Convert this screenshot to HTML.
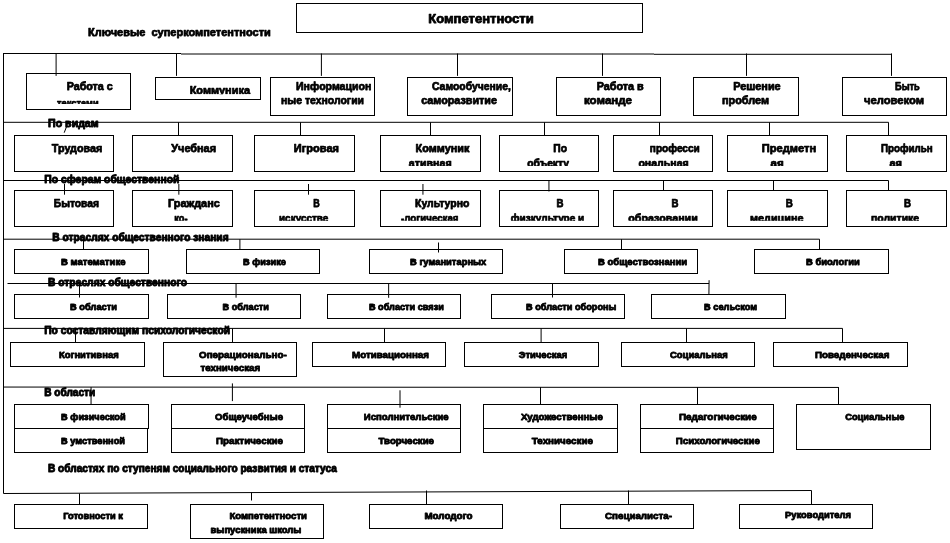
<!DOCTYPE html>
<html lang="ru"><head><meta charset="utf-8"><title>Компетентности</title>
<style>
html,body{margin:0;padding:0;background:#fff;}
body{width:950px;height:543px;overflow:hidden;font-family:"Liberation Sans",sans-serif;}
svg{display:block;filter:grayscale(1);}
svg text{font-family:"Liberation Sans",sans-serif;font-weight:bold;fill:#000;stroke:#000;stroke-linejoin:round;}
</style></head><body>
<svg width="950" height="543" viewBox="0 0 950 543">
<defs>
<clipPath id="c3"><rect x="54.1" y="92.5" width="47.5" height="11.5"/></clipPath>
<clipPath id="c4"><rect x="186.7" y="79.8" width="66.3" height="14.4"/></clipPath>
<clipPath id="c19"><rect x="405.8" y="152.9" width="48.9" height="13.0"/></clipPath>
<clipPath id="c21"><rect x="524.2" y="152.9" width="47.8" height="13.0"/></clipPath>
<clipPath id="c23"><rect x="635.4" y="152.9" width="56.3" height="13.0"/></clipPath>
<clipPath id="c25"><rect x="767.6" y="152.9" width="19.2" height="13.0"/></clipPath>
<clipPath id="c27"><rect x="886.4" y="152.9" width="18.6" height="13.0"/></clipPath>
<clipPath id="c30"><rect x="171.3" y="207.7" width="19.2" height="13.1"/></clipPath>
<clipPath id="c32"><rect x="276" y="207.7" width="55.4" height="13.1"/></clipPath>
<clipPath id="c34"><rect x="398" y="207.7" width="63.5" height="13.1"/></clipPath>
<clipPath id="c36"><rect x="507.8" y="207.7" width="79.5" height="13.1"/></clipPath>
<clipPath id="c38"><rect x="625.3" y="207.7" width="75.5" height="13.1"/></clipPath>
<clipPath id="c40"><rect x="747" y="207.7" width="59.5" height="13.1"/></clipPath>
<clipPath id="c42"><rect x="868" y="207.7" width="54.2" height="13.1"/></clipPath>
</defs>
<g fill="none" stroke="#000" stroke-width="1">
<rect x="296.5" y="3.5" width="346.0" height="29.0"/>
<line x1="3.5" y1="53" x2="3.5" y2="493.5"/>
<line x1="3" y1="53.5" x2="181" y2="53.5"/>
<line x1="181" y1="54.0" x2="654" y2="54.0"/>
<line x1="654" y1="54.3" x2="892" y2="54.3"/>
<line x1="56.1" y1="53.5" x2="56.1" y2="75.9"/>
<line x1="176.5" y1="53.5" x2="176.5" y2="75.9"/>
<line x1="321.4" y1="53.5" x2="321.4" y2="75.9"/>
<line x1="457.5" y1="53.5" x2="457.5" y2="75.9"/>
<line x1="602.5" y1="53.5" x2="602.5" y2="75.9"/>
<line x1="746.5" y1="53.5" x2="746.5" y2="75.9"/>
<line x1="891.5" y1="53.5" x2="891.5" y2="75.9"/>
<rect x="26.5" y="73.5" width="104.0" height="36.0"/>
<rect x="155.5" y="77.5" width="105.0" height="22.0"/>
<rect x="270.5" y="77.5" width="104.0" height="38.0"/>
<rect x="407.5" y="77.5" width="105.0" height="38.0"/>
<rect x="556.5" y="77.5" width="104.0" height="38.0"/>
<rect x="693.5" y="77.5" width="105.0" height="38.0"/>
<rect x="842.5" y="77.5" width="104.0" height="38.0"/>
<line x1="3.5" y1="122.3" x2="888.5" y2="122.3"/>
<line x1="178.5" y1="122.3" x2="178.5" y2="135.5"/>
<line x1="300.5" y1="122.3" x2="300.5" y2="135.5"/>
<line x1="430.5" y1="122.3" x2="430.5" y2="135.5"/>
<line x1="544.5" y1="122.3" x2="544.5" y2="135.5"/>
<line x1="659.5" y1="122.3" x2="659.5" y2="135.5"/>
<line x1="769.5" y1="122.3" x2="769.5" y2="135.5"/>
<line x1="888.5" y1="122.3" x2="888.5" y2="135.5"/>
<line x1="66.4" y1="127" x2="64.2" y2="132.7"/>
<rect x="14.5" y="135.5" width="99.0" height="36.0"/>
<rect x="132.5" y="135.5" width="100.0" height="36.0"/>
<rect x="254.5" y="135.5" width="100.0" height="36.0"/>
<rect x="380.5" y="135.5" width="100.0" height="36.0"/>
<rect x="499.5" y="135.5" width="99.0" height="36.0"/>
<rect x="613.5" y="135.5" width="99.0" height="36.0"/>
<rect x="727.5" y="135.5" width="100.0" height="36.0"/>
<rect x="846.5" y="135.5" width="100.0" height="36.0"/>
<line x1="3.5" y1="180.5" x2="888.5" y2="180.5"/>
<line x1="64.5" y1="184" x2="64.5" y2="194.7"/>
<line x1="178.85" y1="184" x2="178.85" y2="194.7"/>
<line x1="308.5" y1="184" x2="308.5" y2="194.7"/>
<line x1="422.95" y1="184" x2="422.95" y2="194.7"/>
<line x1="548.95" y1="180.5" x2="548.95" y2="191.5"/>
<line x1="663.5" y1="180.5" x2="663.5" y2="190.5"/>
<line x1="773.5" y1="180.5" x2="773.5" y2="190.5"/>
<line x1="888.5" y1="180.5" x2="888.5" y2="190.5"/>
<rect x="14.5" y="190.5" width="99.0" height="36.0"/>
<rect x="132.5" y="190.5" width="100.0" height="36.0"/>
<rect x="254.5" y="190.5" width="100.0" height="36.0"/>
<rect x="380.5" y="190.5" width="100.0" height="36.0"/>
<rect x="499.5" y="190.5" width="99.0" height="36.0"/>
<rect x="613.5" y="190.5" width="99.0" height="36.0"/>
<rect x="727.5" y="190.5" width="100.0" height="36.0"/>
<rect x="846.5" y="190.5" width="100.0" height="36.0"/>
<line x1="3.5" y1="239.2" x2="819.5" y2="239.2"/>
<line x1="83.5" y1="239.2" x2="83.5" y2="249.5"/>
<line x1="239.9" y1="239.2" x2="239.9" y2="249.5"/>
<line x1="621.5" y1="239.2" x2="621.5" y2="249.5"/>
<line x1="819.5" y1="239.2" x2="819.5" y2="249.5"/>
<line x1="438.5" y1="242.5" x2="438.5" y2="252.5"/>
<rect x="14.5" y="249.5" width="134.0" height="24.0"/>
<rect x="186.5" y="249.5" width="133.0" height="24.0"/>
<rect x="369.5" y="249.5" width="133.0" height="24.0"/>
<rect x="564.5" y="249.5" width="133.0" height="24.0"/>
<rect x="754.5" y="249.5" width="134.0" height="24.0"/>
<line x1="7.5" y1="283.5" x2="709" y2="283.5"/>
<line x1="79.5" y1="283.5" x2="79.5" y2="297.5"/>
<line x1="236.05" y1="283.5" x2="236.05" y2="297.7"/>
<line x1="388.65" y1="283.5" x2="388.65" y2="297.8"/>
<line x1="552.5" y1="283.5" x2="552.5" y2="297.5"/>
<line x1="709.1" y1="280.2" x2="708.9" y2="294.5"/>
<rect x="14.5" y="294.5" width="134.0" height="24.0"/>
<rect x="167.5" y="294.5" width="133.0" height="24.0"/>
<rect x="327.5" y="294.5" width="133.0" height="24.0"/>
<rect x="491.5" y="294.5" width="133.0" height="24.0"/>
<rect x="651.5" y="294.5" width="134.0" height="24.0"/>
<line x1="3.5" y1="328.4" x2="842.5" y2="328.4"/>
<line x1="75.5" y1="328.4" x2="75.5" y2="342.5"/>
<line x1="232.5" y1="328.4" x2="232.5" y2="342.5"/>
<line x1="384.5" y1="328.4" x2="384.5" y2="342.5"/>
<line x1="541.1" y1="328.4" x2="541.1" y2="342.5"/>
<line x1="686.5" y1="328.4" x2="686.5" y2="342.5"/>
<line x1="842.5" y1="328.4" x2="842.5" y2="342.5"/>
<rect x="10.5" y="342.5" width="134.0" height="24.0"/>
<rect x="312.5" y="342.5" width="133.0" height="24.0"/>
<rect x="464.5" y="342.5" width="134.0" height="24.0"/>
<rect x="621.5" y="342.5" width="133.0" height="24.0"/>
<rect x="773.5" y="342.5" width="134.0" height="24.0"/>
<rect x="163.5" y="342.5" width="133.0" height="34.0"/>
<line x1="3.5" y1="387.05" x2="838.5" y2="387.45"/>
<line x1="91.05" y1="387.1" x2="91.05" y2="404.5"/>
<line x1="232.4" y1="383.4" x2="232.4" y2="401.1"/>
<line x1="400" y1="390.3" x2="400" y2="407.7"/>
<line x1="540.5" y1="387.1" x2="540.5" y2="404.5"/>
<line x1="697.5" y1="387.1" x2="697.5" y2="404.5"/>
<line x1="838.5" y1="387.1" x2="838.5" y2="404.5"/>
<rect x="14.5" y="404.5" width="134.0" height="24.0"/>
<rect x="14.5" y="428.5" width="133.0" height="24.0"/>
<rect x="171.5" y="404.5" width="133.0" height="24.0"/>
<rect x="171.5" y="428.5" width="133.0" height="24.0"/>
<rect x="327.5" y="404.5" width="133.0" height="24.0"/>
<rect x="327.5" y="428.5" width="133.0" height="24.0"/>
<rect x="483.5" y="404.5" width="134.0" height="24.0"/>
<rect x="483.5" y="428.5" width="134.0" height="24.0"/>
<rect x="640.5" y="404.5" width="133.0" height="24.0"/>
<rect x="640.5" y="428.5" width="133.0" height="24.0"/>
<rect x="796.5" y="404.5" width="134.0" height="45.0"/>
<line x1="3.5" y1="493.5" x2="811.5" y2="490.5"/>
<line x1="79.5" y1="493.5" x2="79.5" y2="504.5"/>
<line x1="251.5" y1="492.5" x2="251.5" y2="500.5"/>
<line x1="426.5" y1="490.5" x2="426.5" y2="504.5"/>
<line x1="628.5" y1="490.5" x2="628.5" y2="504.5"/>
<line x1="811.5" y1="490.5" x2="811.5" y2="504.5"/>
<rect x="14.5" y="504.5" width="133.0" height="24.0"/>
<rect x="369.5" y="504.5" width="133.0" height="24.0"/>
<rect x="560.5" y="504.5" width="133.0" height="24.0"/>
<rect x="739.5" y="504.5" width="133.0" height="24.0"/>
<rect x="190.5" y="504.5" width="133.0" height="34.0"/>
</g>
<g>
<text x="428.2" y="23.3" font-size="12" stroke-width="0.75" textLength="105.6" lengthAdjust="spacingAndGlyphs">Компетентности</text>
<text x="88" y="36.1" font-size="11" stroke-width="0.75" textLength="182.8" lengthAdjust="spacingAndGlyphs">Ключевые&#160; суперкомпетентности</text>
<text x="66.7" y="90" font-size="11" stroke-width="0.75" textLength="46.1" lengthAdjust="spacingAndGlyphs">Работа с</text>
<text x="57.1" y="106.5" font-size="11" stroke-width="0.75" textLength="41.5" lengthAdjust="spacingAndGlyphs" clip-path="url(#c3)">текстами</text>
<text x="189.7" y="93.8" font-size="11" stroke-width="0.75" textLength="60.3" lengthAdjust="spacingAndGlyphs" clip-path="url(#c4)">Коммуника</text>
<text x="296" y="90" font-size="11" stroke-width="0.75" textLength="75.4" lengthAdjust="spacingAndGlyphs">Информацион</text>
<text x="281" y="104" font-size="11" stroke-width="0.75" textLength="83.0" lengthAdjust="spacingAndGlyphs">ные технологии</text>
<text x="432" y="90" font-size="11" stroke-width="0.75" textLength="78.8" lengthAdjust="spacingAndGlyphs">Самообучение,</text>
<text x="421.2" y="104" font-size="11" stroke-width="0.75" textLength="75.8" lengthAdjust="spacingAndGlyphs">саморазвитие</text>
<text x="596.7" y="90" font-size="11" stroke-width="0.75" textLength="47.0" lengthAdjust="spacingAndGlyphs">Работа в</text>
<text x="584" y="104" font-size="11" stroke-width="0.75" textLength="48.0" lengthAdjust="spacingAndGlyphs">команде</text>
<text x="733.2" y="90" font-size="11" stroke-width="0.75" textLength="47.5" lengthAdjust="spacingAndGlyphs">Решение</text>
<text x="722" y="104" font-size="11" stroke-width="0.75" textLength="47.0" lengthAdjust="spacingAndGlyphs">проблем</text>
<text x="895" y="90" font-size="11" stroke-width="0.75" textLength="24.7" lengthAdjust="spacingAndGlyphs">Быть</text>
<text x="864" y="104" font-size="11" stroke-width="0.75" textLength="60.0" lengthAdjust="spacingAndGlyphs">человеком</text>
<text x="51.8" y="152" font-size="11" stroke-width="0.75" textLength="50.5" lengthAdjust="spacingAndGlyphs">Трудовая</text>
<text x="171.3" y="152" font-size="11" stroke-width="0.75" textLength="44.7" lengthAdjust="spacingAndGlyphs">Учебная</text>
<text x="293.8" y="152" font-size="11" stroke-width="0.75" textLength="45.2" lengthAdjust="spacingAndGlyphs">Игровая</text>
<text x="415.6" y="152" font-size="11" stroke-width="0.75" textLength="53.8" lengthAdjust="spacingAndGlyphs">Коммуник</text>
<text x="408.8" y="166.9" font-size="11" stroke-width="0.75" textLength="42.9" lengthAdjust="spacingAndGlyphs" clip-path="url(#c19)">ативная</text>
<text x="553.3" y="152" font-size="11" stroke-width="0.75" textLength="13.7" lengthAdjust="spacingAndGlyphs">По</text>
<text x="527.2" y="166.9" font-size="11" stroke-width="0.75" textLength="41.8" lengthAdjust="spacingAndGlyphs" clip-path="url(#c21)">объекту</text>
<text x="649.8" y="152" font-size="11" stroke-width="0.75" textLength="50.0" lengthAdjust="spacingAndGlyphs">професси</text>
<text x="638.4" y="166.9" font-size="11" stroke-width="0.75" textLength="50.3" lengthAdjust="spacingAndGlyphs" clip-path="url(#c23)">ональная</text>
<text x="761.8" y="152" font-size="11" stroke-width="0.75" textLength="54.3" lengthAdjust="spacingAndGlyphs">Предметн</text>
<text x="770.6" y="166.9" font-size="11" stroke-width="0.75" textLength="13.2" lengthAdjust="spacingAndGlyphs" clip-path="url(#c25)">ая</text>
<text x="881" y="152" font-size="11" stroke-width="0.75" textLength="51.8" lengthAdjust="spacingAndGlyphs">Профильн</text>
<text x="889.4" y="166.9" font-size="11" stroke-width="0.75" textLength="12.6" lengthAdjust="spacingAndGlyphs" clip-path="url(#c27)">ая</text>
<text x="53.8" y="207.0" font-size="11" stroke-width="0.75" textLength="45.2" lengthAdjust="spacingAndGlyphs">Бытовая</text>
<text x="168" y="207.0" font-size="11" stroke-width="0.75" textLength="51.8" lengthAdjust="spacingAndGlyphs">Гражданс</text>
<text x="174.3" y="221.7" font-size="11" stroke-width="0.75" textLength="13.2" lengthAdjust="spacingAndGlyphs" clip-path="url(#c30)">ко-</text>
<text x="313.3" y="207.0" font-size="11" stroke-width="0.75" textLength="6.5" lengthAdjust="spacingAndGlyphs">В</text>
<text x="279" y="221.7" font-size="11" stroke-width="0.75" textLength="49.4" lengthAdjust="spacingAndGlyphs" clip-path="url(#c32)">искусстве</text>
<text x="415" y="207.0" font-size="11" stroke-width="0.75" textLength="54.4" lengthAdjust="spacingAndGlyphs">Культурно</text>
<text x="401" y="221.7" font-size="11" stroke-width="0.75" textLength="57.5" lengthAdjust="spacingAndGlyphs" clip-path="url(#c34)">-логическая</text>
<text x="556.6" y="207.0" font-size="11" stroke-width="0.75" textLength="7.0" lengthAdjust="spacingAndGlyphs">В</text>
<text x="510.8" y="221.7" font-size="11" stroke-width="0.75" textLength="73.5" lengthAdjust="spacingAndGlyphs" clip-path="url(#c36)">физкультуре и</text>
<text x="671.5" y="207.0" font-size="11" stroke-width="0.75" textLength="7.0" lengthAdjust="spacingAndGlyphs">В</text>
<text x="628.3" y="221.7" font-size="11" stroke-width="0.75" textLength="69.5" lengthAdjust="spacingAndGlyphs" clip-path="url(#c38)">образовании</text>
<text x="785.8" y="207.0" font-size="11" stroke-width="0.75" textLength="7.1" lengthAdjust="spacingAndGlyphs">В</text>
<text x="750" y="221.7" font-size="11" stroke-width="0.75" textLength="53.5" lengthAdjust="spacingAndGlyphs" clip-path="url(#c40)">медицине</text>
<text x="904" y="207.0" font-size="11" stroke-width="0.75" textLength="7.0" lengthAdjust="spacingAndGlyphs">В</text>
<text x="871" y="221.7" font-size="11" stroke-width="0.75" textLength="48.2" lengthAdjust="spacingAndGlyphs" clip-path="url(#c42)">политике</text>
<text x="48.1" y="126.6" font-size="10.5" stroke-width="0.9" textLength="50.5" lengthAdjust="spacingAndGlyphs">По видам</text>
<text x="44.2" y="183.1" font-size="10.5" stroke-width="0.9" textLength="135.2" lengthAdjust="spacingAndGlyphs">По сферам общественной</text>
<text x="52.3" y="241.3" font-size="10.5" stroke-width="0.9" textLength="176.3" lengthAdjust="spacingAndGlyphs">В отраслях общественного знания</text>
<text x="48" y="285.8" font-size="10.5" stroke-width="0.9" textLength="139.0" lengthAdjust="spacingAndGlyphs">В отраслях общественного</text>
<text x="44.2" y="334.3" font-size="10.5" stroke-width="0.9" textLength="185.8" lengthAdjust="spacingAndGlyphs">По составляющим психологической</text>
<text x="44.2" y="396.2" font-size="10.5" stroke-width="0.9" textLength="51.0" lengthAdjust="spacingAndGlyphs">В области</text>
<text x="48" y="472.2" font-size="10.5" stroke-width="0.9" textLength="288.8" lengthAdjust="spacingAndGlyphs">В областях по ступеням социального развития и статуса</text>
<text x="60.9" y="264.9" font-size="9.6" stroke-width="0.85" textLength="64.6" lengthAdjust="spacingAndGlyphs">В математике</text>
<text x="243" y="264.9" font-size="9.6" stroke-width="0.85" textLength="43.0" lengthAdjust="spacingAndGlyphs">В физике</text>
<text x="410" y="264.9" font-size="9.6" stroke-width="0.85" textLength="76.3" lengthAdjust="spacingAndGlyphs">В гуманитарных</text>
<text x="598" y="264.9" font-size="9.6" stroke-width="0.85" textLength="89.2" lengthAdjust="spacingAndGlyphs">В обществознании</text>
<text x="806" y="264.9" font-size="9.6" stroke-width="0.85" textLength="53.8" lengthAdjust="spacingAndGlyphs">В биологии</text>
<text x="70" y="310.3" font-size="9.6" stroke-width="0.85" textLength="47.0" lengthAdjust="spacingAndGlyphs">В области</text>
<text x="222.5" y="310.3" font-size="9.6" stroke-width="0.85" textLength="46.5" lengthAdjust="spacingAndGlyphs">В области</text>
<text x="368.9" y="310.3" font-size="9.6" stroke-width="0.85" textLength="75.0" lengthAdjust="spacingAndGlyphs">В области связи</text>
<text x="526" y="310.3" font-size="9.6" stroke-width="0.85" textLength="90.4" lengthAdjust="spacingAndGlyphs">В области обороны</text>
<text x="704.1" y="310.3" font-size="9.6" stroke-width="0.85" textLength="52.9" lengthAdjust="spacingAndGlyphs">В сельском</text>
<text x="58.9" y="357.9" font-size="9.6" stroke-width="0.85" textLength="59.8" lengthAdjust="spacingAndGlyphs">Когнитивная</text>
<text x="199" y="357.9" font-size="9.6" stroke-width="0.85" textLength="87.7" lengthAdjust="spacingAndGlyphs">Операционально-</text>
<text x="200.5" y="370.9" font-size="9.6" stroke-width="0.85" textLength="59.7" lengthAdjust="spacingAndGlyphs">техническая</text>
<text x="352" y="357.9" font-size="9.6" stroke-width="0.85" textLength="77.0" lengthAdjust="spacingAndGlyphs">Мотивационная</text>
<text x="518.7" y="357.9" font-size="9.6" stroke-width="0.85" textLength="48.5" lengthAdjust="spacingAndGlyphs">Этическая</text>
<text x="670" y="357.9" font-size="9.6" stroke-width="0.85" textLength="57.7" lengthAdjust="spacingAndGlyphs">Социальная</text>
<text x="814.9" y="357.9" font-size="9.6" stroke-width="0.85" textLength="74.5" lengthAdjust="spacingAndGlyphs">Поведенческая</text>
<text x="61.1" y="419.8" font-size="9.6" stroke-width="0.85" textLength="64.5" lengthAdjust="spacingAndGlyphs">В физической</text>
<text x="61.1" y="444.3" font-size="9.6" stroke-width="0.85" textLength="63.9" lengthAdjust="spacingAndGlyphs">В умственной</text>
<text x="215" y="419.8" font-size="9.6" stroke-width="0.85" textLength="68.0" lengthAdjust="spacingAndGlyphs">Общеучебные</text>
<text x="216" y="444.3" font-size="9.6" stroke-width="0.85" textLength="67.0" lengthAdjust="spacingAndGlyphs">Практические</text>
<text x="363.8" y="419.8" font-size="9.6" stroke-width="0.85" textLength="84.9" lengthAdjust="spacingAndGlyphs">Исполнительские</text>
<text x="378.5" y="444.3" font-size="9.6" stroke-width="0.85" textLength="55.5" lengthAdjust="spacingAndGlyphs">Творческие</text>
<text x="521" y="419.8" font-size="9.6" stroke-width="0.85" textLength="82.0" lengthAdjust="spacingAndGlyphs">Художественные</text>
<text x="531.8" y="444.3" font-size="9.6" stroke-width="0.85" textLength="61.2" lengthAdjust="spacingAndGlyphs">Технические</text>
<text x="679" y="419.8" font-size="9.6" stroke-width="0.85" textLength="77.7" lengthAdjust="spacingAndGlyphs">Педагогические</text>
<text x="675.8" y="444.3" font-size="9.6" stroke-width="0.85" textLength="84.0" lengthAdjust="spacingAndGlyphs">Психологические</text>
<text x="845.2" y="419.8" font-size="9.6" stroke-width="0.85" textLength="59.3" lengthAdjust="spacingAndGlyphs">Социальные</text>
<text x="63.2" y="519.4" font-size="9.6" stroke-width="0.85" textLength="59.8" lengthAdjust="spacingAndGlyphs">Готовности к</text>
<text x="229.4" y="519.4" font-size="9.6" stroke-width="0.85" textLength="77.6" lengthAdjust="spacingAndGlyphs">Компетентности</text>
<text x="210.5" y="532.8" font-size="9.6" stroke-width="0.85" textLength="90.9" lengthAdjust="spacingAndGlyphs">выпускника школы</text>
<text x="424.4" y="519.4" font-size="9.6" stroke-width="0.85" textLength="48.0" lengthAdjust="spacingAndGlyphs">Молодого</text>
<text x="605" y="519" font-size="9.6" stroke-width="0.85" textLength="67.0" lengthAdjust="spacingAndGlyphs">Специалиста-</text>
<text x="785" y="518.4" font-size="9.6" stroke-width="0.85" textLength="66.0" lengthAdjust="spacingAndGlyphs">Руководителя</text>
</g>
</svg>
</body></html>
